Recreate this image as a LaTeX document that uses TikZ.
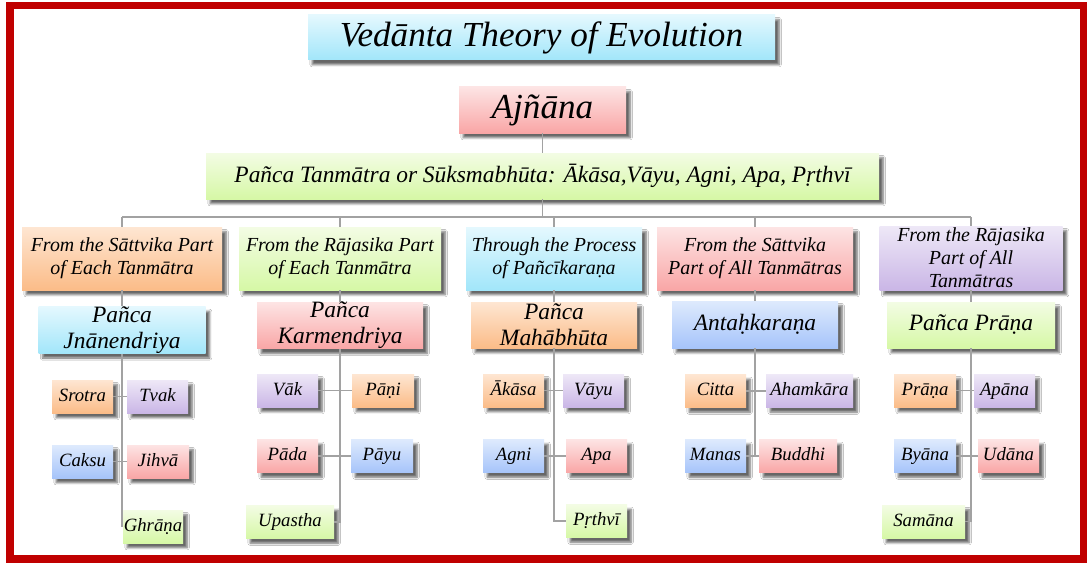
\documentclass[tikz,border=0pt]{standalone}
\usepackage{fontspec}
\setmainfont{Liberation Serif}
\usetikzlibrary{shadows.blur}
\definecolor{framered}{HTML}{C00000}
\definecolor{linkgray}{HTML}{A2A2A2}
\definecolor{cyanT}{HTML}{E4F8FE}\definecolor{cyanB}{HTML}{A2E6FA}
\definecolor{pinkT}{HTML}{FDE4E4}\definecolor{pinkB}{HTML}{F9A6A6}
\definecolor{greenT}{HTML}{F3FCE4}\definecolor{greenB}{HTML}{D6F8A6}
\definecolor{orangeT}{HTML}{FEE6D2}\definecolor{orangeB}{HTML}{FBBC88}
\definecolor{purpleT}{HTML}{EEE8F7}\definecolor{purpleB}{HTML}{CAB6E6}
\definecolor{blueT}{HTML}{DEEAFD}\definecolor{blueB}{HTML}{A6C4FA}
\newlength\px \setlength\px{0.03cm}
\tikzset{
  box/.style={inner sep=0pt, align=center,
    blur shadow={shadow xshift=3.5pt, shadow yshift=-4pt, shadow opacity=60, shadow blur steps=6}},
  boxsize/.style 2 args={minimum width=#1*\px, minimum height=#2*\px},
  cyan/.style={box, top color=cyanT, bottom color=cyanB},
  pink/.style={box, top color=pinkT, bottom color=pinkB},
  green/.style={box, top color=greenT, bottom color=greenB},
  orange/.style={box, top color=orangeT, bottom color=orangeB},
  purple/.style={box, top color=purpleT, bottom color=purpleB},
  blue/.style={box, top color=blueT, bottom color=blueB},
  bigtext/.style={font=\itshape\fontsize{30}{34}\selectfont},
  midtext/.style={font=\itshape\fontsize{20}{24}\selectfont},
  cattext/.style={font=\itshape\fontsize{17}{19.5}\selectfont},
  subtext/.style={font=\itshape\fontsize{20}{22}\selectfont},
  leaf/.style={font=\itshape\fontsize{16}{18}\selectfont, minimum height=33*\px,
    text height=10.5pt, text depth=2.5pt},
  link/.style={draw=linkgray, line width=1.5pt},
}
\begin{document}
\begin{tikzpicture}[x=0.03cm,y=-0.03cm]
  \useasboundingbox (0,0) rectangle (1087,563);
  \fill[white] (0,0) rectangle (1087,563);
  \fill[framered] (6,2) rectangle (1087,563);
  \fill[white] (14,9) rectangle (1080,555);

  \node[cyan, boxsize={467}{45}, bigtext] (title) at (541.5,37.5) {Vedānta Theory of Evolution};
  \node[pink, boxsize={167}{46}, bigtext] (ajnana) at (542.5,110) {Ajñāna};
  \node[green, boxsize={673}{46}, midtext] (tanmatra) at (542.5,176)
    {Pañca Tanmātra or Sūksmabhūta: Ākāsa,Vāyu, Agni, Apa, Pṛthvī};

  \node[orange, boxsize={200}{63}, cattext] (cat1) at (122,258.5) {From the Sāttvika Part\\of Each Tanmātra};
  \node[green, boxsize={202}{63}, cattext] (cat2) at (340,258.5) {From the Rājasika Part\\of Each Tanmātra};
  \node[cyan, boxsize={176}{63}, cattext] (cat3) at (554,258.5) {Through the Process\\of Pañcīkaraṇa};
  \node[pink, boxsize={196}{63}, cattext] (cat4) at (755,258.5) {From the Sāttvika\\Part of All Tanmātras};
  \node[purple, boxsize={183}{64}, cattext] (cat5) at (971,258) {From the Rājasika\\Part of All\\Tanmātras};

  \node[cyan, boxsize={167}{44}, subtext] (jnana) at (122,330) {Pañca\\Jnānendriya};
  \node[pink, boxsize={166}{45}, subtext] (karma) at (340,325.5) {Pañca\\Karmendriya};
  \node[orange, boxsize={166}{46}, subtext] (maha) at (554,325) {Pañca\\Mahābhūta};
  \node[blue, boxsize={166}{47}, subtext] (antah) at (755,324.5) {Antaḥkaraṇa};
  \node[green, boxsize={168}{46}, subtext] (pprana) at (971,325) {Pañca Prāṇa};

  \foreach \n/\x/\y/\w/\c/\t in {
      srotra/82.5/396.5/61/orange/Srotra, tvak/157.5/396.5/61/purple/Tvak,
      caksu/82.5/461.5/61/blue/Caksu, jihva/158/461.5/62/pink/Jihvā,
      ghrana/153/526.5/60/green/Ghrāṇa,
      vak/287.5/390.5/61/purple/Vāk, pani/383/390.5/62/orange/Pāṇi,
      pada/287.5/456/61/pink/Pāda, payu/382/456/62/blue/Pāyu,
      upastha/290/522/88/green/Upastha,
      akasa/513.5/390.5/61/orange/Ākāsa, vayu/593.5/390.5/61/purple/Vāyu,
      agni/513.5/456/61/blue/Agni, apa/596.5/456/61/pink/Apa,
      prthvi/596.5/521/61/green/Pṛthvī,
      citta/715.5/391/61/orange/Citta, ahamkara/809.5/391/87/purple/Ahamkāra,
      manas/715.5/456/61/blue/Manas, buddhi/798/456/78/pink/Buddhi,
      prana/925/390.5/62/orange/Prāṇa, apana/1004.5/390.5/61/purple/Apāna,
      byana/925/456/62/blue/Byāna, udana/1008.5/456/61/pink/Udāna,
      samana/923.5/521.5/83/green/Samāna}
    \node[\c, leaf, minimum width=\w*\px] (\n) at (\x,\y) {\t};

  \coordinate (bus) at (542.5,217);
  \draw[link] (ajnana) -- (tanmatra);
  \draw[link] (tanmatra) -- (bus);
  \draw[link] (cat1.north |- bus) -- (cat5.north |- bus);
  \foreach \c/\s in {cat1/jnana,cat2/karma,cat3/maha,cat4/antah,cat5/pprana}{
    \draw[link] (\c) -- (\c.north |- bus);
    \draw[link] (\c) -- (\s);
  }
  \draw[link] (jnana) |- (ghrana);
  \draw[link] (karma) |- (upastha);
  \draw[link] (maha) |- (prthvi);
  \draw[link] (antah) |- (manas);
  \draw[link] (pprana) |- (samana);
  \foreach \a/\b in {srotra/tvak,caksu/jihva,vak/pani,pada/payu,akasa/vayu,
      agni/apa,citta/ahamkara,manas/buddhi,prana/apana,byana/udana}
    \draw[link] (\a) -- (\b);
\end{tikzpicture}
\end{document}
